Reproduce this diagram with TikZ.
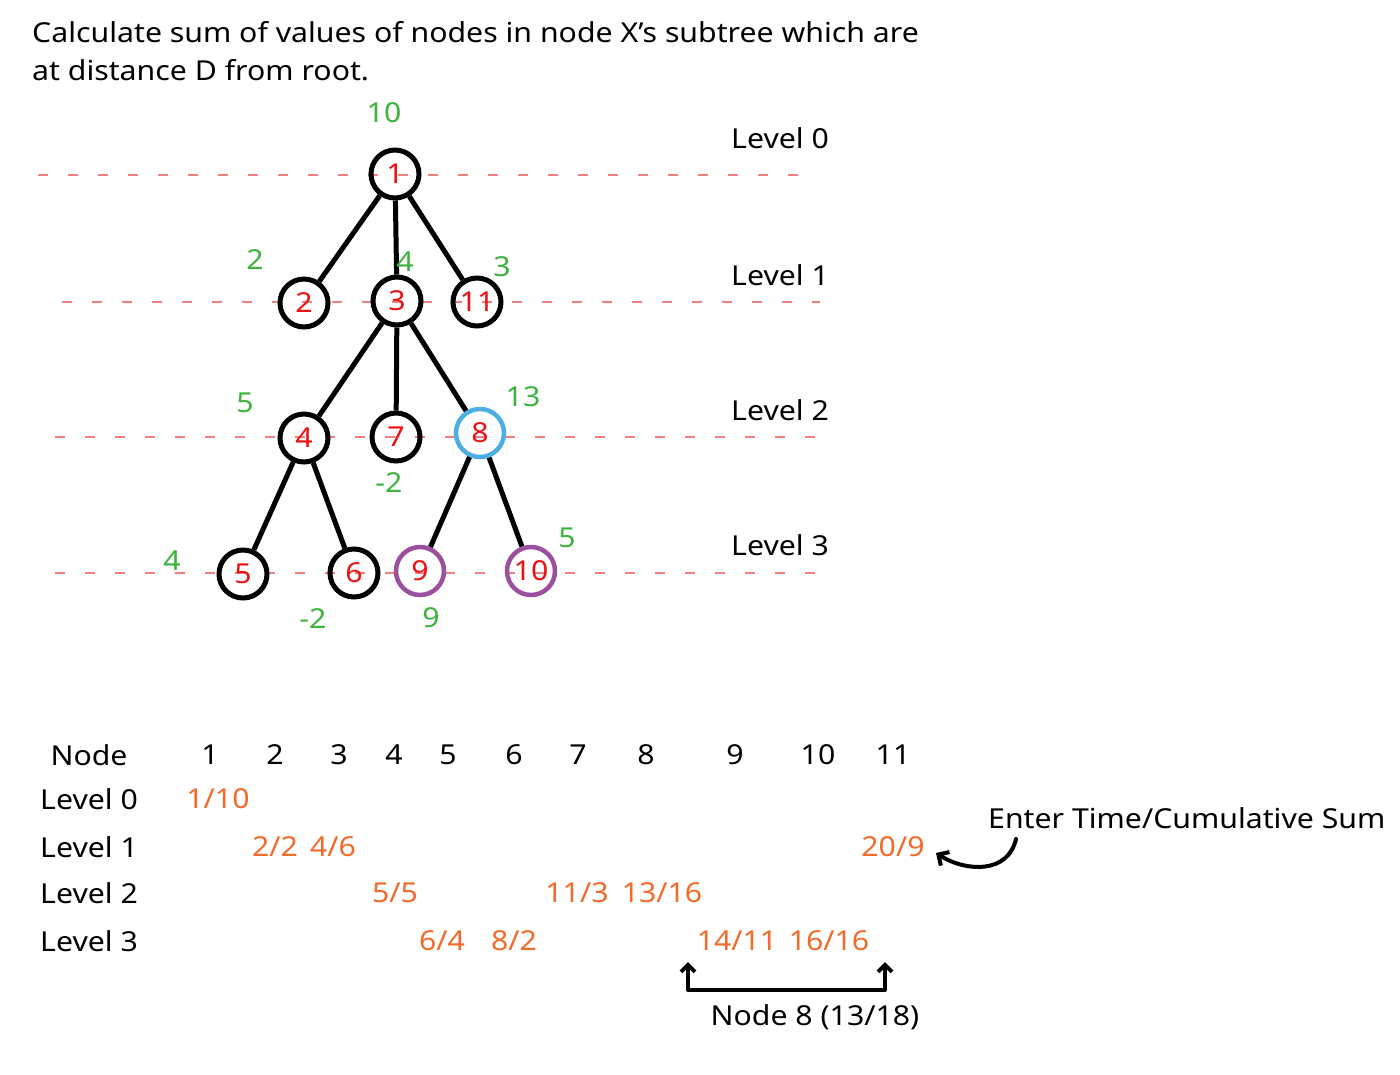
\documentclass[tikz,border=0pt]{standalone}
\usepackage{fontspec}
\setmainfont{Noto Sans}[FakeStretch=1.1]
\usetikzlibrary{arrows.meta}
\definecolor{nred}{HTML}{EE1111}
\definecolor{ngreen}{HTML}{3DB33D}
\definecolor{norange}{HTML}{F26B2A}
\definecolor{nblue}{HTML}{4DAEE3}
\definecolor{npurple}{HTML}{9B4F9D}
\definecolor{guidec}{HTML}{F08080}
\begin{document}
\begin{tikzpicture}[x=1pt,y=-1pt,
  txt/.style={font=\fontsize{27.5}{32}\selectfont, inner sep=0pt},
  lbl/.style={txt, text=black, anchor=west},
  val/.style={txt, text=ngreen},
  ent/.style={txt, text=norange},
  tn/.style={circle, draw=black, line width=5pt, minimum size=48pt, inner sep=0pt, text=nred, font=\fontsize{27.5}{32}\selectfont},
  edge/.style={line width=5pt, black},
  guide/.style={guidec, line width=1.2pt, dash pattern=on 10pt off 20pt},
  arr/.style={line width=4pt, black, line cap=round, line join=round}
]
\useasboundingbox (0,0) rectangle (1400,1074);
\fill[white] (0,0) rectangle (1400,1074);

% title
\node[lbl] (title1) at (32,32) {Calculate sum of values of nodes in node X's subtree which are};
\node[lbl] (title2) at (32,70) {at distance D from root.};

% guide lines
\coordinate (g0a) at (38,175);  \coordinate (g0b) at (800,175);
\coordinate (g1a) at (62,302);  \coordinate (g1b) at (820,302);
\coordinate (g2a) at (55,437);  \coordinate (g2b) at (815,437);
\coordinate (g3a) at (55,573);  \coordinate (g3b) at (815,573);
\draw[guide] (g0a) -- (g0b);
\draw[guide] (g1a) -- (g1b);
\draw[guide] (g2a) -- (g2b);
\draw[guide] (g3a) -- (g3b);

% level labels
\node[lbl] (lv0) at (731,138) {Level 0};
\node[lbl] (lv1) at (731,275) {Level 1};
\node[lbl] (lv2) at (731,410) {Level 2};
\node[lbl] (lv3) at (731,545) {Level 3};

% tree nodes
\node[tn] (n1) at (395,174) {1};
\node[tn] (n2) at (304,303) {2};
\node[tn] (n3) at (397,301) {3};
\node[tn] (n11) at (477,302) {11};
\node[tn] (n4) at (304,438) {4};
\node[tn] (n7) at (396,437) {7};
\node[tn, draw=nblue, line width=4.5pt] (n8) at (480,433) {8};
\node[tn] (n5) at (243,574) {5};
\node[tn] (n6) at (354,573) {6};
\node[tn, draw=npurple, line width=4.5pt] (n9) at (420,571) {9};
\node[tn, draw=npurple, line width=4.5pt] (n10) at (531,571) {10};

% edges
\draw[edge] (n1) -- (n2);
\draw[edge] (n1) -- (n3);
\draw[edge] (n1) -- (n11);
\draw[edge] (n3) -- (n4);
\draw[edge] (n3) -- (n7);
\draw[edge] (n3) -- (n8);
\draw[edge] (n4) -- (n5);
\draw[edge] (n4) -- (n6);
\draw[edge] (n8) -- (n9);
\draw[edge] (n8) -- (n10);

% values
\node[val] (v1) at (384,113) {10};
\node[val] (v2) at (255,260) {2};
\node[val] (v3) at (405,262) {4};
\node[val] (v11) at (502,267) {3};
\node[val] (v4) at (245,403) {5};
\node[val] (v8) at (523,397) {13};
\node[val] (v7) at (389,483) {-2};
\node[val] (v5) at (172,561) {4};
\node[val] (v6) at (313,619) {-2};
\node[val] (v9) at (431,618) {9};
\node[val] (v10) at (567,538) {5};

% table header
\node[txt] (hnode) at (89,755) {Node};
\node[txt] (h1) at (210,755) {1};
\node[txt] (h2) at (275,755) {2};
\node[txt] (h3) at (339,755) {3};
\node[txt] (h4) at (394,755) {4};
\node[txt] (h5) at (448,755) {5};
\node[txt] (h6) at (514,755) {6};
\node[txt] (h7) at (578,755) {7};
\node[txt] (h8) at (646,755) {8};
\node[txt] (h9) at (735,755) {9};
\node[txt] (h10) at (818,755) {10};
\node[txt] (h11) at (893,755) {11};

\node[lbl] (r0) at (40,799) {Level 0};
\node[lbl] (r1) at (40,847) {Level 1};
\node[lbl] (r2) at (40,893) {Level 2};
\node[lbl] (r3) at (40,941) {Level 3};

% entries
\node[ent] (e1) at (218,799) {1/10};
\node[ent] (e2) at (275,847) {2/2};
\node[ent] (e3) at (333,847) {4/6};
\node[ent] (e11) at (893,847) {20/9};
\node[ent] (e4) at (395,893) {5/5};
\node[ent] (e7) at (577,893) {11/3};
\node[ent] (e8) at (662,893) {13/16};
\node[ent] (e5) at (442,941) {6/4};
\node[ent] (e6) at (514,941) {8/2};
\node[ent] (e9) at (737,941) {14/11};
\node[ent] (e10) at (829,941) {16/16};

% annotation
\node[lbl] (enter) at (988,818) {Enter Time/Cumulative Sum};
\coordinate (cs) at (1016,839);
\coordinate (ce) at (936,853);
\draw[arr, -{Straight Barb[length=8pt,width=16pt]}] (cs) .. controls (1008,874) and (966,872) .. (ce);

\coordinate (bl) at (688,962);
\coordinate (bbl) at (688,990);
\coordinate (bbr) at (885,990);
\coordinate (br) at (885,962);
\draw[arr, {Straight Barb[length=7pt,width=14pt]}-{Straight Barb[length=7pt,width=14pt]}] (bl) -- (bbl) -- (bbr) -- (br);
\node[txt] (n8note) at (815,1017) {Node 8 (13/18)};
\end{tikzpicture}
\end{document}
